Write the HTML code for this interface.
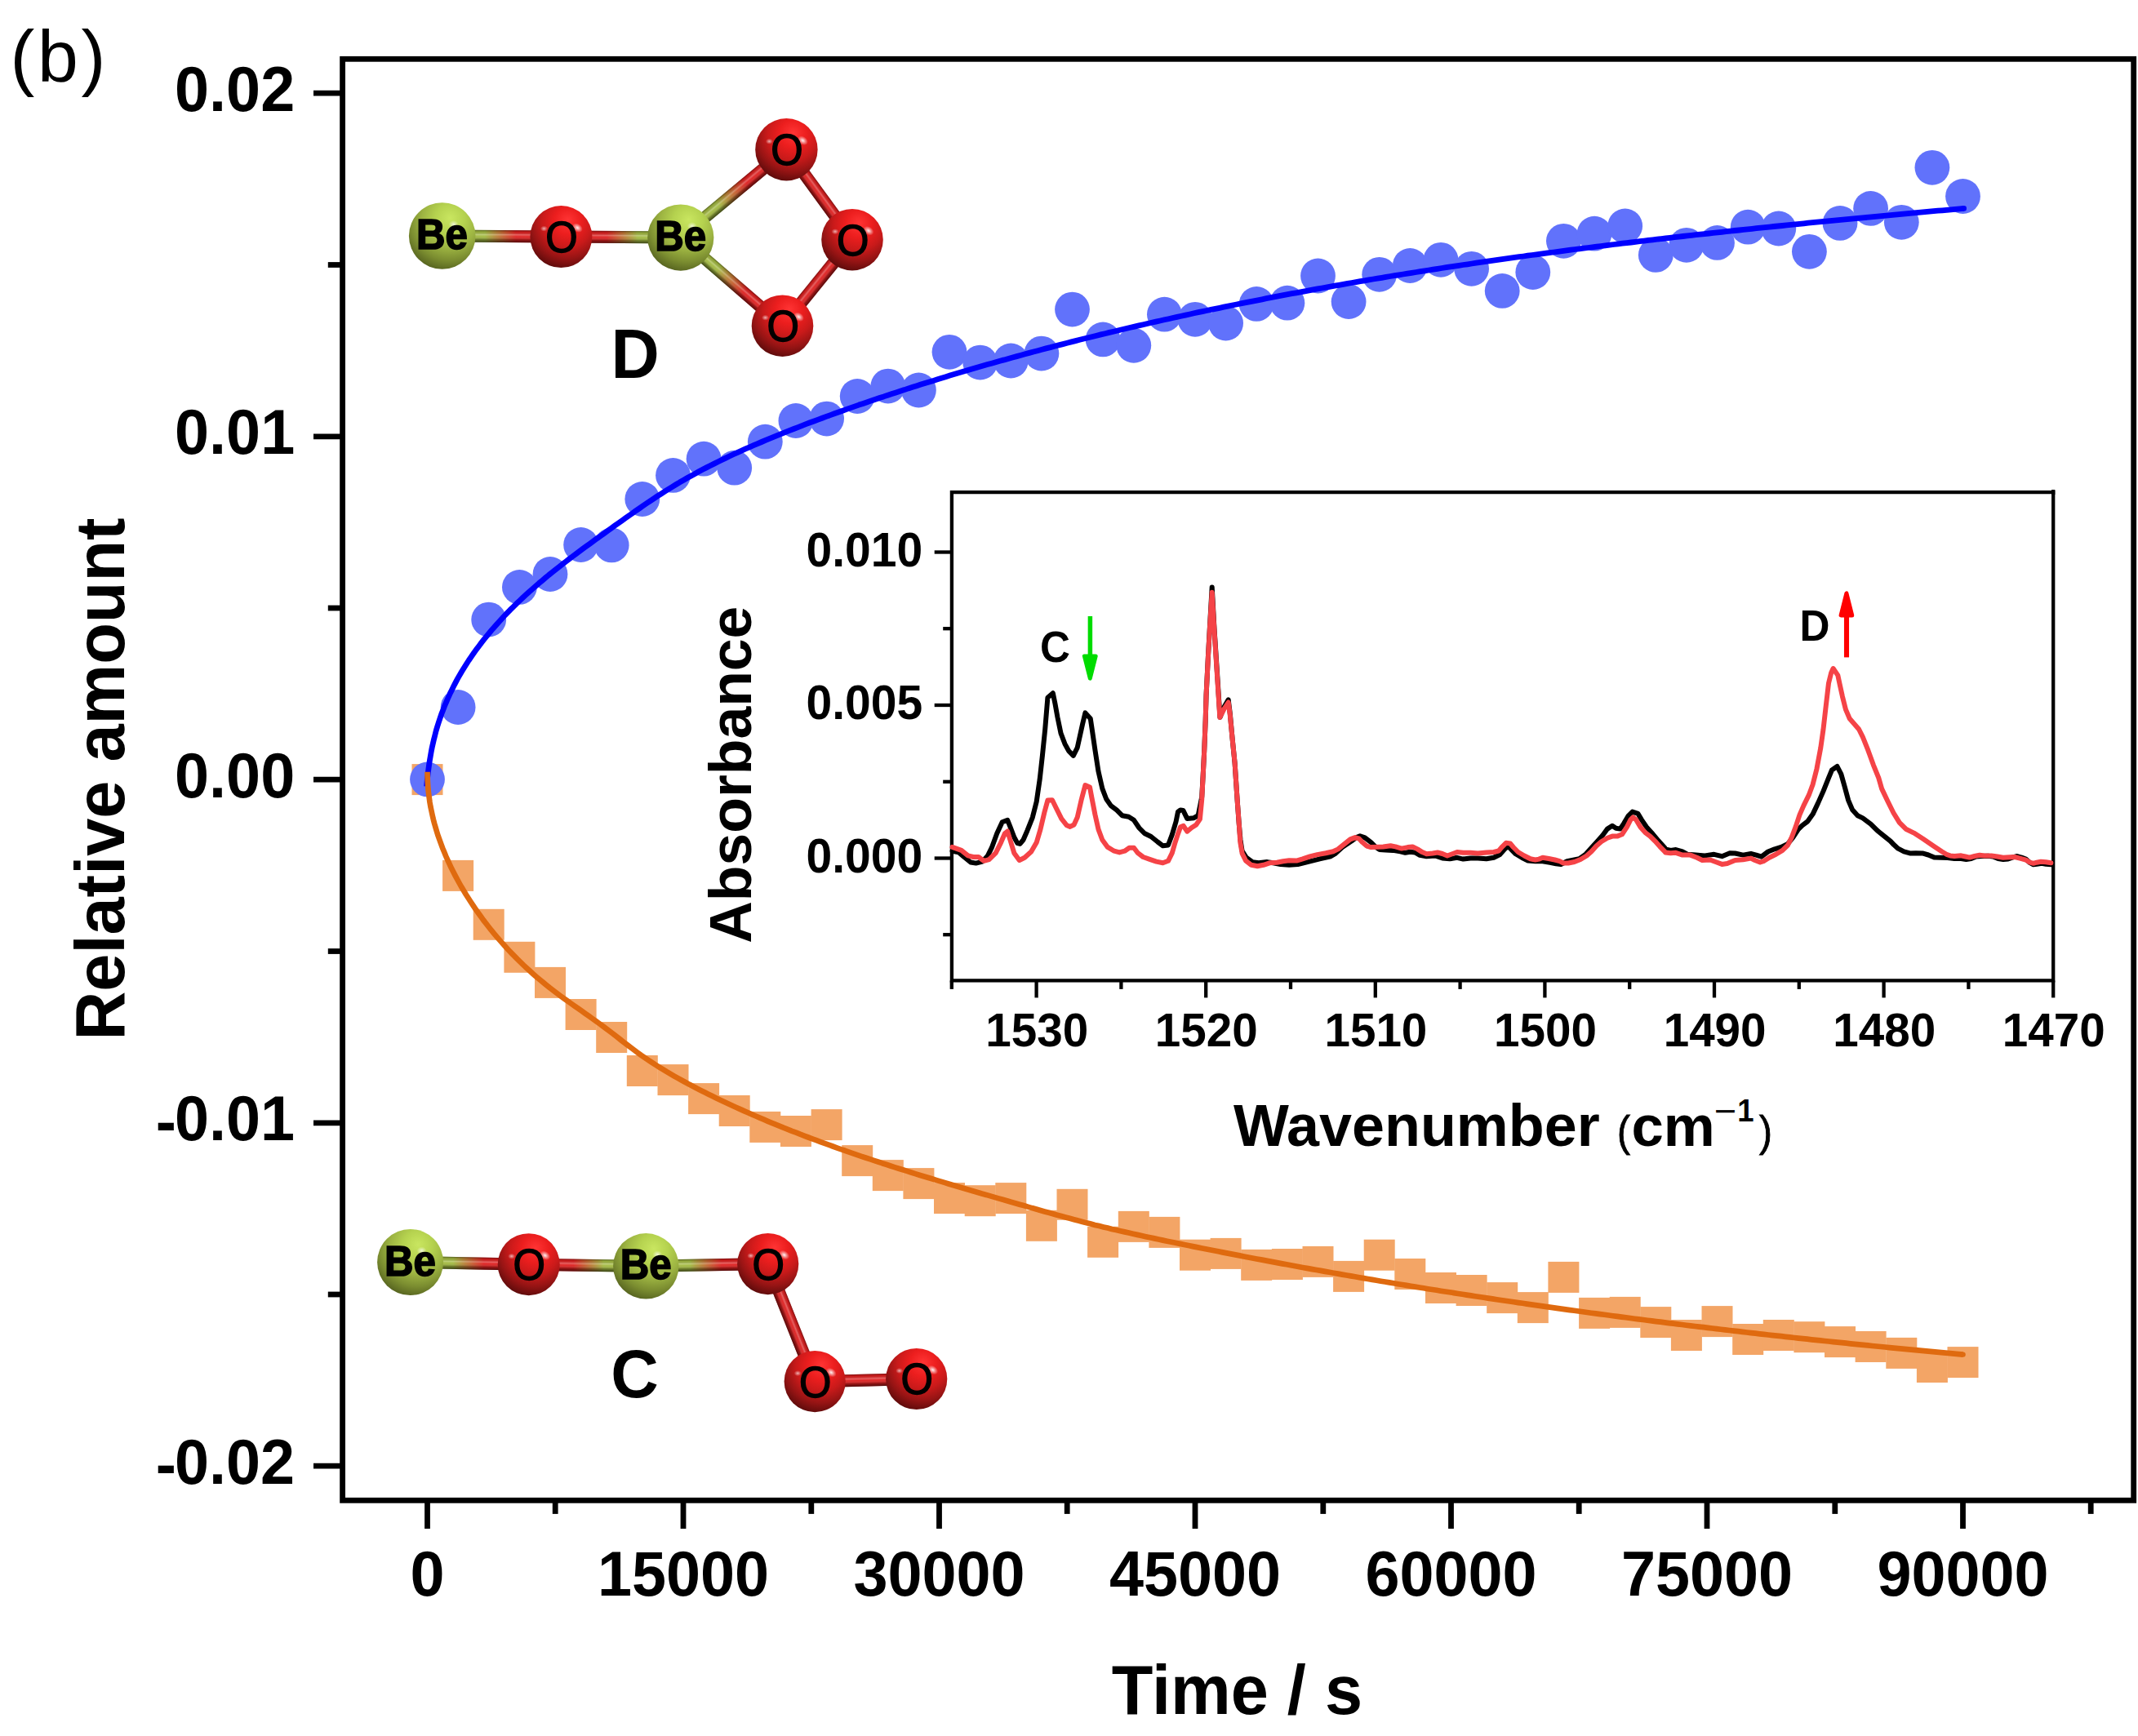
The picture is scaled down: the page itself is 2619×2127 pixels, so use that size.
<!DOCTYPE html>
<html lang="en"><head><meta charset="utf-8"><title>Relative amount vs time (b)</title>
<style>html,body{margin:0;padding:0;background:#fff;width:2619px;height:2127px;overflow:hidden}svg{display:block}text{font-family:"Liberation Sans",Arial,Helvetica,sans-serif;fill:#000}.b{font-weight:700}</style>
</head><body>
<svg width="2619" height="2127" viewBox="0 0 2619 2127">
<defs>
<radialGradient id="gO" cx="0.59" cy="0.29" r="0.78" fx="0.61" fy="0.23"><stop offset="0" stop-color="#ff3434"/><stop offset="0.28" stop-color="#ec1e1e"/><stop offset="0.52" stop-color="#c91a1a"/><stop offset="0.74" stop-color="#961414"/><stop offset="0.9" stop-color="#6a0d0d"/><stop offset="1" stop-color="#4a0808"/></radialGradient>
<radialGradient id="gB" cx="0.60" cy="0.29" r="0.80" fx="0.62" fy="0.23"><stop offset="0" stop-color="#c9e660"/><stop offset="0.28" stop-color="#b5d24f"/><stop offset="0.52" stop-color="#9db442"/><stop offset="0.74" stop-color="#7b8d30"/><stop offset="0.9" stop-color="#5c6a22"/><stop offset="1" stop-color="#404a16"/></radialGradient>
<radialGradient id="gH"><stop offset="0" stop-color="#fff" stop-opacity="0.95"/><stop offset="0.5" stop-color="#fff" stop-opacity="0.45"/><stop offset="1" stop-color="#fff" stop-opacity="0"/></radialGradient>
<linearGradient id="bBO" x1="0" x2="1" y1="0" y2="0"><stop offset="0" stop-color="#a2b940"/><stop offset="0.36" stop-color="#a2b940"/><stop offset="0.62" stop-color="#dd1f1f"/><stop offset="1" stop-color="#dd1f1f"/></linearGradient>
<linearGradient id="bOB" x1="0" x2="1" y1="0" y2="0"><stop offset="0" stop-color="#dd1f1f"/><stop offset="0.38" stop-color="#dd1f1f"/><stop offset="0.64" stop-color="#a2b940"/><stop offset="1" stop-color="#a2b940"/></linearGradient>
<linearGradient id="bOO" x1="0" x2="1" y1="0" y2="0"><stop offset="0" stop-color="#dd1f1f"/><stop offset="1" stop-color="#dd1f1f"/></linearGradient>
<linearGradient id="bS" x1="0" x2="0" y1="0" y2="1"><stop offset="0" stop-color="#000" stop-opacity="0.42"/><stop offset="0.16" stop-color="#000" stop-opacity="0.08"/><stop offset="0.36" stop-color="#fff" stop-opacity="0.30"/><stop offset="0.52" stop-color="#fff" stop-opacity="0.04"/><stop offset="0.76" stop-color="#000" stop-opacity="0.30"/><stop offset="1" stop-color="#000" stop-opacity="0.62"/></linearGradient>
</defs>
<rect x="0" y="0" width="2619" height="2127" fill="#ffffff"/>
<g fill="#f3a566">
<rect x="504.5" y="936.1" width="38" height="38"/>
<rect x="542.1" y="1053.9" width="38" height="38"/>
<rect x="579.7" y="1113.8" width="38" height="38"/>
<rect x="617.4" y="1153.8" width="38" height="38"/>
<rect x="655" y="1184.9" width="38" height="38"/>
<rect x="692.6" y="1224" width="38" height="38"/>
<rect x="730.2" y="1252" width="38" height="38"/>
<rect x="767.8" y="1293" width="38" height="38"/>
<rect x="805.5" y="1304.1" width="38" height="38"/>
<rect x="843.1" y="1327.1" width="38" height="38"/>
<rect x="880.7" y="1342" width="38" height="38"/>
<rect x="918.3" y="1361.9" width="38" height="38"/>
<rect x="955.9" y="1367" width="38" height="38"/>
<rect x="993.6" y="1359.1" width="38" height="38"/>
<rect x="1031.2" y="1403.1" width="38" height="38"/>
<rect x="1068.8" y="1421.1" width="38" height="38"/>
<rect x="1106.4" y="1431.1" width="38" height="38"/>
<rect x="1144" y="1449.1" width="38" height="38"/>
<rect x="1181.7" y="1452.2" width="38" height="38"/>
<rect x="1219.3" y="1449.1" width="38" height="38"/>
<rect x="1256.9" y="1482.8" width="38" height="38"/>
<rect x="1294.5" y="1456.8" width="38" height="38"/>
<rect x="1332.1" y="1502.8" width="38" height="38"/>
<rect x="1369.8" y="1483.9" width="38" height="38"/>
<rect x="1407.4" y="1490.9" width="38" height="38"/>
<rect x="1445" y="1518.7" width="38" height="38"/>
<rect x="1482.6" y="1516.9" width="38" height="38"/>
<rect x="1520.2" y="1530.9" width="38" height="38"/>
<rect x="1557.9" y="1530" width="38" height="38"/>
<rect x="1595.5" y="1526.9" width="38" height="38"/>
<rect x="1633.1" y="1544.9" width="38" height="38"/>
<rect x="1670.7" y="1518.7" width="38" height="38"/>
<rect x="1708.3" y="1542" width="38" height="38"/>
<rect x="1746" y="1559" width="38" height="38"/>
<rect x="1783.6" y="1562" width="38" height="38"/>
<rect x="1821.2" y="1571.1" width="38" height="38"/>
<rect x="1858.8" y="1583.1" width="38" height="38"/>
<rect x="1896.4" y="1545.9" width="38" height="38"/>
<rect x="1934.1" y="1589.9" width="38" height="38"/>
<rect x="1971.7" y="1588.9" width="38" height="38"/>
<rect x="2009.3" y="1601.1" width="38" height="38"/>
<rect x="2046.9" y="1617" width="38" height="38"/>
<rect x="2084.5" y="1600.1" width="38" height="38"/>
<rect x="2122.2" y="1622" width="38" height="38"/>
<rect x="2159.8" y="1617" width="38" height="38"/>
<rect x="2197.4" y="1619.2" width="38" height="38"/>
<rect x="2235" y="1625.1" width="38" height="38"/>
<rect x="2272.6" y="1631" width="38" height="38"/>
<rect x="2310.3" y="1638.9" width="38" height="38"/>
<rect x="2347.9" y="1656" width="38" height="38"/>
<rect x="2385.5" y="1650.1" width="38" height="38"/>
</g>
<g fill="#6172fb">
<circle cx="523.5" cy="954.9" r="21.4"/>
<circle cx="561.1" cy="866.5" r="21.4"/>
<circle cx="598.7" cy="759.1" r="21.4"/>
<circle cx="636.4" cy="719.4" r="21.4"/>
<circle cx="674" cy="703.5" r="21.4"/>
<circle cx="711.6" cy="667.5" r="21.4"/>
<circle cx="749.2" cy="667.9" r="21.4"/>
<circle cx="786.8" cy="611.5" r="21.4"/>
<circle cx="824.5" cy="582.4" r="21.4"/>
<circle cx="862.1" cy="562.2" r="21.4"/>
<circle cx="899.7" cy="573.2" r="21.4"/>
<circle cx="937.3" cy="541.2" r="21.4"/>
<circle cx="974.9" cy="515.5" r="21.4"/>
<circle cx="1012.6" cy="513.1" r="21.4"/>
<circle cx="1050.2" cy="485.5" r="21.4"/>
<circle cx="1087.8" cy="473.1" r="21.4"/>
<circle cx="1125.4" cy="478" r="21.4"/>
<circle cx="1163" cy="431.3" r="21.4"/>
<circle cx="1200.7" cy="444.1" r="21.4"/>
<circle cx="1238.3" cy="442" r="21.4"/>
<circle cx="1275.9" cy="433.1" r="21.4"/>
<circle cx="1313.5" cy="379.1" r="21.4"/>
<circle cx="1351.1" cy="415.9" r="21.4"/>
<circle cx="1388.8" cy="423.3" r="21.4"/>
<circle cx="1426.4" cy="385.2" r="21.4"/>
<circle cx="1464" cy="391.3" r="21.4"/>
<circle cx="1501.6" cy="396" r="21.4"/>
<circle cx="1539.2" cy="372.4" r="21.4"/>
<circle cx="1576.9" cy="371.2" r="21.4"/>
<circle cx="1614.5" cy="338" r="21.4"/>
<circle cx="1652.1" cy="369.6" r="21.4"/>
<circle cx="1689.7" cy="336.3" r="21.4"/>
<circle cx="1727.3" cy="325.5" r="21.4"/>
<circle cx="1765" cy="318.3" r="21.4"/>
<circle cx="1802.6" cy="329.3" r="21.4"/>
<circle cx="1840.2" cy="356.4" r="21.4"/>
<circle cx="1877.8" cy="333.5" r="21.4"/>
<circle cx="1915.4" cy="295.3" r="21.4"/>
<circle cx="1953.1" cy="286.2" r="21.4"/>
<circle cx="1990.7" cy="276.9" r="21.4"/>
<circle cx="2028.3" cy="312.4" r="21.4"/>
<circle cx="2065.9" cy="300.3" r="21.4"/>
<circle cx="2103.5" cy="297.4" r="21.4"/>
<circle cx="2141.2" cy="278.2" r="21.4"/>
<circle cx="2178.8" cy="280" r="21.4"/>
<circle cx="2216.4" cy="308.3" r="21.4"/>
<circle cx="2254" cy="273.4" r="21.4"/>
<circle cx="2291.6" cy="255.4" r="21.4"/>
<circle cx="2329.3" cy="272.3" r="21.4"/>
<circle cx="2366.9" cy="205.3" r="21.4"/>
<circle cx="2404.5" cy="240.5" r="21.4"/>
</g>
<path d="M522.6 963.5 L523.1 958.2 L523.6 952.9 L524.2 947.6 L524.9 942.3 L525.6 937 L526.4 931.7 L527.3 926.5 L528.2 921.2 L529.2 916 L530.4 910.8 L531.6 905.6 L532.9 900.5 L534.2 895.3 L535.7 890.2 L537.3 885.2 L539 880.1 L540.7 875.1 L542.6 870.2 L544.5 865.2 L546.6 860.3 L548.7 855.5 L550.9 850.6 L553.2 845.9 L555.6 841.1 L558 836.4 L560.5 831.7 L563.1 827.1 L565.8 822.5 L568.6 818 L571.4 813.5 L574.3 809 L577.3 804.6 L580.3 800.3 L583.4 795.9 L586.6 791.7 L589.8 787.4 L593.1 783.2 L596.4 779.1 L599.8 775 L603.2 770.9 L606.7 766.9 L610.3 762.9 L613.9 758.9 L617.5 755 L621.2 751.2 L624.9 747.3 L628.7 743.6 L632.5 739.8 L636.4 736.1 L640.2 732.5 L644.2 728.8 L648.1 725.2 L652.1 721.7 L656.1 718.2 L660.1 714.7 L664.2 711.3 L668.2 707.9 L672.3 704.5 L676.5 701.2 L680.6 697.9 L684.8 694.6 L688.9 691.3 L693.1 688.1 L697.4 684.8 L701.6 681.6 L705.8 678.5 L710.1 675.3 L714.4 672.1 L718.6 669 L722.9 665.9 L727.2 662.8 L731.5 659.6 L735.9 656.5 L740.2 653.4 L744.5 650.3 L748.8 647.2 L753.1 644.1 L757.5 641 L761.8 637.9 L766.2 634.8 L770.5 631.7 L774.9 628.7 L779.2 625.6 L783.6 622.6 L788 619.5 L792.4 616.5 L796.8 613.6 L801.3 610.6 L805.7 607.7 L810.2 604.8 L814.7 601.9 L819.2 599.1 L823.7 596.3 L828.3 593.5 L832.8 590.8 L837.4 588.2 L842 585.5 L846.7 582.9 L851.3 580.4 L856 577.8 L860.7 575.3 L865.4 572.9 L870.1 570.5 L874.9 568.1 L879.6 565.7 L884.4 563.4 L889.2 561.1 L894 558.8 L898.8 556.5 L903.6 554.3 L908.5 552.1 L913.3 549.9 L918.2 547.8 L923.1 545.7 L928 543.6 L932.9 541.5 L937.8 539.4 L942.7 537.4 L947.6 535.4 L952.5 533.4 L957.5 531.4 L962.4 529.4 L967.4 527.4 L972.3 525.5 L977.3 523.6 L982.3 521.6 L987.2 519.7 L992.2 517.8 L997.2 516 L1002.2 514.1 L1007.2 512.2 L1012.1 510.4 L1017.1 508.6 L1022.1 506.8 L1027.1 505 L1032.2 503.2 L1037.2 501.4 L1042.2 499.6 L1047.2 497.9 L1052.2 496.1 L1057.3 494.4 L1062.3 492.7 L1067.3 490.9 L1072.4 489.2 L1077.4 487.5 L1082.5 485.9 L1087.5 484.2 L1092.6 482.5 L1097.6 480.9 L1102.7 479.2 L1107.8 477.6 L1112.8 475.9 L1117.9 474.3 L1123 472.7 L1128 471.1 L1133.1 469.5 L1138.2 467.9 L1143.3 466.4 L1148.4 464.8 L1153.4 463.2 L1158.5 461.7 L1163.6 460.1 L1168.7 458.6 L1173.8 457.1 L1178.9 455.6 L1184 454.1 L1189.1 452.6 L1194.2 451.1 L1199.4 449.6 L1204.5 448.1 L1209.6 446.6 L1214.7 445.2 L1219.8 443.7 L1224.9 442.3 L1230.1 440.9 L1235.2 439.4 L1240.3 438 L1245.5 436.6 L1250.6 435.2 L1255.7 433.8 L1260.9 432.4 L1266 431 L1271.1 429.7 L1276.3 428.3 L1281.4 426.9 L1286.6 425.6 L1291.7 424.2 L1296.9 422.9 L1302 421.6 L1307.2 420.3 L1312.4 418.9 L1317.5 417.6 L1322.7 416.3 L1327.8 415 L1333 413.8 L1338.2 412.5 L1343.3 411.2 L1348.5 409.9 L1353.7 408.7 L1358.9 407.4 L1364 406.2 L1369.2 405 L1374.4 403.7 L1379.6 402.5 L1384.8 401.3 L1389.9 400.1 L1395.1 398.9 L1400.3 397.7 L1405.5 396.5 L1410.7 395.3 L1415.9 394.1 L1421.1 393 L1426.3 391.8 L1431.4 390.7 L1436.6 389.5 L1441.8 388.4 L1447 387.2 L1452.2 386.1 L1457.4 385 L1462.6 383.8 L1467.8 382.7 L1473 381.6 L1478.3 380.5 L1483.5 379.4 L1488.7 378.3 L1493.9 377.3 L1499.1 376.2 L1504.3 375.1 L1509.5 374 L1514.7 373 L1519.9 371.9 L1525.1 370.9 L1530.4 369.8 L1535.6 368.8 L1540.8 367.8 L1546 366.8 L1551.2 365.7 L1556.5 364.7 L1561.7 363.7 L1566.9 362.7 L1572.1 361.7 L1577.4 360.7 L1582.6 359.7 L1587.8 358.8 L1593 357.8 L1598.3 356.8 L1603.5 355.9 L1608.7 354.9 L1614 353.9 L1619.2 353 L1624.4 352.1 L1629.7 351.1 L1634.9 350.2 L1640.1 349.3 L1645.4 348.3 L1650.6 347.4 L1655.9 346.5 L1661.1 345.6 L1666.3 344.7 L1671.6 343.8 L1676.8 342.9 L1682.1 342 L1687.3 341.2 L1692.6 340.3 L1697.8 339.4 L1703.1 338.5 L1708.3 337.7 L1713.6 336.8 L1718.8 336 L1724.1 335.1 L1729.3 334.3 L1734.6 333.5 L1739.8 332.6 L1745.1 331.8 L1750.3 331 L1755.6 330.1 L1760.9 329.3 L1766.1 328.5 L1771.4 327.7 L1776.6 326.9 L1781.9 326.1 L1787.2 325.3 L1792.4 324.5 L1797.7 323.8 L1802.9 323 L1808.2 322.2 L1813.5 321.4 L1818.7 320.7 L1824 319.9 L1829.3 319.2 L1834.5 318.4 L1839.8 317.6 L1845.1 316.9 L1850.3 316.2 L1855.6 315.4 L1860.9 314.7 L1866.1 314 L1871.4 313.2 L1876.7 312.5 L1882 311.8 L1887.2 311.1 L1892.5 310.4 L1897.8 309.7 L1903.1 309 L1908.3 308.3 L1913.6 307.6 L1918.9 306.9 L1924.2 306.2 L1929.4 305.5 L1934.7 304.8 L1940 304.2 L1945.3 303.5 L1950.6 302.8 L1955.8 302.2 L1961.1 301.5 L1966.4 300.8 L1971.7 300.2 L1977 299.5 L1982.3 298.9 L1987.5 298.2 L1992.8 297.6 L1998.1 297 L2003.4 296.3 L2008.7 295.7 L2014 295.1 L2019.2 294.4 L2024.5 293.8 L2029.8 293.2 L2035.1 292.6 L2040.4 292 L2045.7 291.3 L2051 290.7 L2056.3 290.1 L2061.5 289.5 L2066.8 288.9 L2072.1 288.3 L2077.4 287.7 L2082.7 287.2 L2088 286.6 L2093.3 286 L2098.6 285.4 L2103.9 284.8 L2109.2 284.3 L2114.5 283.7 L2119.7 283.1 L2125 282.5 L2130.3 282 L2135.6 281.4 L2140.9 280.8 L2146.2 280.3 L2151.5 279.7 L2156.8 279.2 L2162.1 278.6 L2167.4 278.1 L2172.7 277.5 L2178 277 L2183.3 276.5 L2188.6 275.9 L2193.9 275.4 L2199.2 274.8 L2204.4 274.3 L2209.7 273.8 L2215 273.2 L2220.3 272.7 L2225.6 272.2 L2230.9 271.7 L2236.2 271.2 L2241.5 270.6 L2246.8 270.1 L2252.1 269.6 L2257.4 269.1 L2262.7 268.6 L2268 268.1 L2273.3 267.6 L2278.6 267.1 L2283.9 266.6 L2289.2 266.1 L2294.5 265.6 L2299.8 265.1 L2305.1 264.6 L2310.4 264.1 L2315.7 263.6 L2321 263.1 L2326.3 262.6 L2331.6 262.1 L2336.9 261.6 L2342.1 261.1 L2347.4 260.6 L2352.7 260.2 L2358 259.7 L2363.3 259.2 L2368.6 258.7 L2373.9 258.2 L2379.2 257.8 L2384.5 257.3 L2389.8 256.8 L2395.1 256.3 L2400.4 255.9 L2405.7 255.4" fill="none" stroke="#0000ff" stroke-width="6.8" stroke-linecap="butt" stroke-linejoin="round"/>
<path d="M523.5 945.8 L523.6 951.2 L523.8 956.5 L524.1 961.8 L524.5 967.2 L525.1 972.5 L525.8 977.7 L526.5 983 L527.4 988.2 L528.5 993.4 L529.6 998.6 L530.8 1003.8 L532.1 1008.9 L533.6 1014 L535.1 1019.1 L536.7 1024.2 L538.5 1029.2 L540.3 1034.2 L542.2 1039.2 L544.2 1044.1 L546.2 1049 L548.4 1053.9 L550.6 1058.7 L552.9 1063.6 L555.3 1068.3 L557.8 1073.1 L560.3 1077.8 L562.9 1082.5 L565.5 1087.1 L568.3 1091.7 L571 1096.3 L573.9 1100.8 L576.8 1105.3 L579.7 1109.7 L582.7 1114.1 L585.8 1118.5 L588.9 1122.8 L592 1127.1 L595.2 1131.3 L598.5 1135.5 L601.8 1139.7 L605.2 1143.8 L608.6 1147.9 L612.1 1151.9 L615.6 1155.9 L619.1 1159.8 L622.7 1163.7 L626.4 1167.6 L630.1 1171.4 L633.8 1175.2 L637.6 1178.9 L641.4 1182.6 L645.3 1186.2 L649.2 1189.8 L653.2 1193.4 L657.2 1196.9 L661.2 1200.3 L665.3 1203.7 L669.5 1207.1 L673.6 1210.4 L677.8 1213.6 L682.1 1216.9 L686.4 1220.1 L690.7 1223.2 L695 1226.3 L699.3 1229.4 L703.7 1232.5 L708.1 1235.6 L712.4 1238.6 L716.8 1241.7 L721.2 1244.8 L725.5 1247.9 L729.9 1251 L734.2 1254.1 L738.5 1257.3 L742.8 1260.5 L747 1263.7 L751.3 1266.9 L755.5 1270.2 L759.7 1273.5 L763.9 1276.8 L768.1 1280 L772.3 1283.2 L776.6 1286.4 L780.9 1289.6 L785.2 1292.7 L789.6 1295.7 L794 1298.7 L798.4 1301.6 L802.8 1304.5 L807.3 1307.3 L811.9 1310.1 L816.4 1312.9 L821 1315.6 L825.6 1318.3 L830.2 1320.9 L834.9 1323.5 L839.5 1326 L844.2 1328.6 L848.9 1331 L853.6 1333.5 L858.4 1335.9 L863.1 1338.3 L867.9 1340.7 L872.7 1343.1 L877.5 1345.4 L882.3 1347.7 L887.1 1350 L891.9 1352.3 L896.7 1354.5 L901.6 1356.7 L906.4 1358.9 L911.3 1361.1 L916.2 1363.3 L921 1365.4 L925.9 1367.5 L930.8 1369.6 L935.7 1371.7 L940.6 1373.8 L945.5 1375.8 L950.5 1377.9 L955.4 1379.9 L960.3 1381.9 L965.3 1383.8 L970.2 1385.8 L975.2 1387.7 L980.1 1389.7 L985.1 1391.6 L990.1 1393.5 L995.1 1395.3 L1000.1 1397.2 L1005.1 1399.1 L1010.1 1400.9 L1015.1 1402.7 L1020.1 1404.5 L1025.1 1406.3 L1030.1 1408.1 L1035.2 1409.8 L1040.2 1411.6 L1045.2 1413.3 L1050.3 1415.1 L1055.3 1416.8 L1060.4 1418.5 L1065.4 1420.2 L1070.5 1421.9 L1075.6 1423.5 L1080.6 1425.2 L1085.7 1426.8 L1090.8 1428.5 L1095.8 1430.1 L1100.9 1431.7 L1106 1433.3 L1111.1 1434.9 L1116.1 1436.5 L1121.2 1438.1 L1126.3 1439.7 L1131.4 1441.2 L1136.5 1442.8 L1141.6 1444.3 L1146.7 1445.9 L1151.8 1447.4 L1156.9 1448.9 L1162 1450.5 L1167.1 1452 L1172.2 1453.5 L1177.3 1455 L1182.4 1456.5 L1187.5 1458 L1192.6 1459.5 L1197.7 1461 L1202.8 1462.5 L1208 1463.9 L1213.1 1465.4 L1218.2 1466.9 L1223.3 1468.4 L1228.4 1469.8 L1233.5 1471.3 L1238.6 1472.8 L1243.8 1474.2 L1248.9 1475.7 L1254 1477.1 L1259.1 1478.6 L1264.2 1480.1 L1269.4 1481.5 L1274.5 1483 L1279.6 1484.4 L1284.7 1485.8 L1289.9 1487.2 L1295 1488.7 L1300.1 1490.1 L1305.3 1491.5 L1310.4 1492.8 L1315.6 1494.2 L1320.7 1495.6 L1325.9 1496.9 L1331 1498.2 L1336.2 1499.6 L1341.3 1500.9 L1346.5 1502.1 L1351.7 1503.4 L1356.9 1504.6 L1362 1505.9 L1367.2 1507.1 L1372.4 1508.3 L1377.6 1509.4 L1382.8 1510.6 L1388 1511.8 L1393.2 1512.9 L1398.4 1514 L1403.6 1515.2 L1408.8 1516.3 L1414 1517.4 L1419.3 1518.5 L1424.5 1519.6 L1429.7 1520.7 L1434.9 1521.7 L1440.1 1522.8 L1445.4 1523.9 L1450.6 1525 L1455.8 1526 L1461 1527.1 L1466.2 1528.1 L1471.5 1529.2 L1476.7 1530.2 L1481.9 1531.3 L1487.1 1532.3 L1492.4 1533.3 L1497.6 1534.4 L1502.8 1535.4 L1508 1536.4 L1513.3 1537.4 L1518.5 1538.4 L1523.7 1539.5 L1529 1540.5 L1534.2 1541.5 L1539.4 1542.5 L1544.7 1543.4 L1549.9 1544.4 L1555.1 1545.4 L1560.4 1546.4 L1565.6 1547.4 L1570.8 1548.4 L1576.1 1549.3 L1581.3 1550.3 L1586.6 1551.2 L1591.8 1552.2 L1597 1553.2 L1602.3 1554.1 L1607.5 1555.1 L1612.8 1556 L1618 1556.9 L1623.2 1557.9 L1628.5 1558.8 L1633.7 1559.7 L1639 1560.6 L1644.2 1561.6 L1649.5 1562.5 L1654.7 1563.4 L1660 1564.3 L1665.2 1565.2 L1670.5 1566.1 L1675.7 1567 L1681 1567.9 L1686.2 1568.8 L1691.5 1569.7 L1696.7 1570.5 L1702 1571.4 L1707.2 1572.3 L1712.5 1573.2 L1717.7 1574 L1723 1574.9 L1728.2 1575.8 L1733.5 1576.6 L1738.8 1577.5 L1744 1578.3 L1749.3 1579.2 L1754.5 1580 L1759.8 1580.8 L1765 1581.7 L1770.3 1582.5 L1775.6 1583.3 L1780.8 1584.1 L1786.1 1585 L1791.4 1585.8 L1796.6 1586.6 L1801.9 1587.4 L1807.1 1588.2 L1812.4 1589 L1817.7 1589.8 L1822.9 1590.6 L1828.2 1591.4 L1833.5 1592.2 L1838.7 1593 L1844 1593.8 L1849.3 1594.5 L1854.5 1595.3 L1859.8 1596.1 L1865.1 1596.8 L1870.3 1597.6 L1875.6 1598.4 L1880.9 1599.1 L1886.2 1599.9 L1891.4 1600.6 L1896.7 1601.4 L1902 1602.1 L1907.2 1602.9 L1912.5 1603.6 L1917.8 1604.4 L1923.1 1605.1 L1928.3 1605.8 L1933.6 1606.5 L1938.9 1607.3 L1944.2 1608 L1949.4 1608.7 L1954.7 1609.4 L1960 1610.1 L1965.3 1610.8 L1970.6 1611.5 L1975.8 1612.2 L1981.1 1612.9 L1986.4 1613.6 L1991.7 1614.3 L1997 1615 L2002.2 1615.7 L2007.5 1616.4 L2012.8 1617 L2018.1 1617.7 L2023.4 1618.4 L2028.6 1619.1 L2033.9 1619.7 L2039.2 1620.4 L2044.5 1621.1 L2049.8 1621.7 L2055.1 1622.4 L2060.4 1623 L2065.6 1623.7 L2070.9 1624.3 L2076.2 1625 L2081.5 1625.6 L2086.8 1626.2 L2092.1 1626.9 L2097.4 1627.5 L2102.7 1628.1 L2107.9 1628.8 L2113.2 1629.4 L2118.5 1630 L2123.8 1630.6 L2129.1 1631.2 L2134.4 1631.9 L2139.7 1632.5 L2145 1633.1 L2150.3 1633.7 L2155.6 1634.3 L2160.9 1634.9 L2166.1 1635.5 L2171.4 1636.1 L2176.7 1636.6 L2182 1637.2 L2187.3 1637.8 L2192.6 1638.4 L2197.9 1639 L2203.2 1639.6 L2208.5 1640.1 L2213.8 1640.7 L2219.1 1641.3 L2224.4 1641.8 L2229.7 1642.4 L2235 1643 L2240.3 1643.5 L2245.6 1644.1 L2250.9 1644.6 L2256.2 1645.2 L2261.5 1645.7 L2266.8 1646.3 L2272.1 1646.8 L2277.4 1647.4 L2282.7 1647.9 L2288 1648.4 L2293.3 1649 L2298.6 1649.5 L2303.9 1650 L2309.2 1650.5 L2314.5 1651.1 L2319.8 1651.6 L2325.1 1652.1 L2330.4 1652.6 L2335.7 1653.1 L2341 1653.6 L2346.3 1654.2 L2351.6 1654.7 L2356.9 1655.2 L2362.2 1655.7 L2367.5 1656.2 L2372.8 1656.7 L2378.1 1657.2 L2383.4 1657.7 L2388.7 1658.1 L2394 1658.6 L2399.3 1659.1 L2404.6 1659.6" fill="none" stroke="#df6a0f" stroke-width="6.7" stroke-linecap="butt" stroke-linejoin="round"/>
<circle cx="2405.7" cy="255.4" r="3.3" fill="#0000ff"/>
<circle cx="2404.6" cy="1659.6" r="3.2" fill="#df6a0f"/>
<g stroke="#000" stroke-width="6.8" fill="none" stroke-linecap="butt">
<rect x="419.6" y="72.3" width="2194.1" height="1766"/>
<line x1="384" y1="1796.2" x2="419.6" y2="1796.2"/>
<line x1="401.8" y1="1586" x2="419.6" y2="1586"/>
<line x1="384" y1="1375.8" x2="419.6" y2="1375.8"/>
<line x1="401.8" y1="1165.5" x2="419.6" y2="1165.5"/>
<line x1="384" y1="955.2" x2="419.6" y2="955.2"/>
<line x1="401.8" y1="745" x2="419.6" y2="745"/>
<line x1="384" y1="534.8" x2="419.6" y2="534.8"/>
<line x1="401.8" y1="324.5" x2="419.6" y2="324.5"/>
<line x1="384" y1="114.2" x2="419.6" y2="114.2"/>
<line x1="523.5" y1="1838.3" x2="523.5" y2="1873"/>
<line x1="680.2" y1="1838.3" x2="680.2" y2="1854.9"/>
<line x1="837" y1="1838.3" x2="837" y2="1873"/>
<line x1="993.8" y1="1838.3" x2="993.8" y2="1854.9"/>
<line x1="1150.5" y1="1838.3" x2="1150.5" y2="1873"/>
<line x1="1307.2" y1="1838.3" x2="1307.2" y2="1854.9"/>
<line x1="1464" y1="1838.3" x2="1464" y2="1873"/>
<line x1="1620.8" y1="1838.3" x2="1620.8" y2="1854.9"/>
<line x1="1777.5" y1="1838.3" x2="1777.5" y2="1873"/>
<line x1="1934.2" y1="1838.3" x2="1934.2" y2="1854.9"/>
<line x1="2091" y1="1838.3" x2="2091" y2="1873"/>
<line x1="2247.8" y1="1838.3" x2="2247.8" y2="1854.9"/>
<line x1="2404.5" y1="1838.3" x2="2404.5" y2="1873"/>
<line x1="2561.2" y1="1838.3" x2="2561.2" y2="1854.9"/>
</g>
<text class="b" font-size="75.6" text-anchor="end" transform="translate(361.2 135.8) scale(1.0000 1.0350)">0.02</text>
<text class="b" font-size="75.6" text-anchor="end" transform="translate(361.2 556.4) scale(1.0000 1.0350)">0.01</text>
<text class="b" font-size="75.6" text-anchor="end" transform="translate(361.2 976.9) scale(1.0000 1.0350)">0.00</text>
<text class="b" font-size="75.6" text-anchor="end" transform="translate(359 1397.3) scale(1.0000 1.0350)"><tspan dx="2" dy="3.2">-</tspan><tspan dx="-2" dy="-3.2">0.01</tspan></text>
<text class="b" font-size="75.6" text-anchor="end" transform="translate(359 1817.8) scale(1.0000 1.0350)"><tspan dx="2" dy="3.2">-</tspan><tspan dx="-2" dy="-3.2">0.02</tspan></text>
<text class="b" font-size="75.6" text-anchor="middle" transform="translate(523.5 1955) scale(1.0000 1.0350)">0</text>
<text class="b" font-size="75.6" text-anchor="middle" transform="translate(837 1955) scale(1.0000 1.0350)">15000</text>
<text class="b" font-size="75.6" text-anchor="middle" transform="translate(1150.5 1955) scale(1.0000 1.0350)">30000</text>
<text class="b" font-size="75.6" text-anchor="middle" transform="translate(1464 1955) scale(1.0000 1.0350)">45000</text>
<text class="b" font-size="75.6" text-anchor="middle" transform="translate(1777.5 1955) scale(1.0000 1.0350)">60000</text>
<text class="b" font-size="75.6" text-anchor="middle" transform="translate(2091 1955) scale(1.0000 1.0350)">75000</text>
<text class="b" font-size="75.6" text-anchor="middle" transform="translate(2404.5 1955) scale(1.0000 1.0350)">90000</text>
<text class="b" font-size="82.9" text-anchor="middle" transform="translate(1515.4 2100) scale(1.0000 1.0300)">Time / s</text>
<text class="b" font-size="82.9" text-anchor="middle" transform="translate(152.3 954.4) rotate(-90) scale(1.0000 1.0200)">Relative amount</text>
<text font-size="89.6" text-anchor="start" transform="translate(12.6 100.1)" letter-spacing="3.6">(b)</text>
<g stroke="#000" stroke-width="4.3" fill="none">
<rect x="1165.9" y="603.1" width="1349.3" height="598.3"/>
<line x1="2515.2" y1="600" x2="2515.2" y2="606"/>
<line x1="1144.7" y1="676.5" x2="1165.9" y2="676.5"/>
<line x1="1155.2" y1="770.2" x2="1165.9" y2="770.2"/>
<line x1="1144.7" y1="864" x2="1165.9" y2="864"/>
<line x1="1155.2" y1="957.8" x2="1165.9" y2="957.8"/>
<line x1="1144.7" y1="1051.5" x2="1165.9" y2="1051.5"/>
<line x1="1155.2" y1="1145.2" x2="1165.9" y2="1145.2"/>
<line x1="2515.2" y1="1201.4" x2="2515.2" y2="1222.4"/>
<line x1="2411.4" y1="1201.4" x2="2411.4" y2="1211.9"/>
<line x1="2307.6" y1="1201.4" x2="2307.6" y2="1222.4"/>
<line x1="2203.8" y1="1201.4" x2="2203.8" y2="1211.9"/>
<line x1="2100" y1="1201.4" x2="2100" y2="1222.4"/>
<line x1="1996.2" y1="1201.4" x2="1996.2" y2="1211.9"/>
<line x1="1892.4" y1="1201.4" x2="1892.4" y2="1222.4"/>
<line x1="1788.6" y1="1201.4" x2="1788.6" y2="1211.9"/>
<line x1="1684.8" y1="1201.4" x2="1684.8" y2="1222.4"/>
<line x1="1581" y1="1201.4" x2="1581" y2="1211.9"/>
<line x1="1477.2" y1="1201.4" x2="1477.2" y2="1222.4"/>
<line x1="1373.4" y1="1201.4" x2="1373.4" y2="1211.9"/>
<line x1="1269.6" y1="1201.4" x2="1269.6" y2="1222.4"/>
<line x1="1165.8" y1="1201.4" x2="1165.8" y2="1211.9"/>
</g>
<text class="b" font-size="57" text-anchor="end" transform="translate(1130.2 693.7) scale(1.0000 1.0300)">0.010</text>
<text class="b" font-size="57" text-anchor="end" transform="translate(1130.2 881.2) scale(1.0000 1.0300)">0.005</text>
<text class="b" font-size="57" text-anchor="end" transform="translate(1130.2 1068.7) scale(1.0000 1.0300)">0.000</text>
<text class="b" font-size="56.6" text-anchor="middle" transform="translate(1270.2 1282.3) scale(1.0000 1.0300)">1530</text>
<text class="b" font-size="56.6" text-anchor="middle" transform="translate(1477.8 1282.3) scale(1.0000 1.0300)">1520</text>
<text class="b" font-size="56.6" text-anchor="middle" transform="translate(1685.4 1282.3) scale(1.0000 1.0300)">1510</text>
<text class="b" font-size="56.6" text-anchor="middle" transform="translate(1893 1282.3) scale(1.0000 1.0300)">1500</text>
<text class="b" font-size="56.6" text-anchor="middle" transform="translate(2100.6 1282.3) scale(1.0000 1.0300)">1490</text>
<text class="b" font-size="56.6" text-anchor="middle" transform="translate(2308.2 1282.3) scale(1.0000 1.0300)">1480</text>
<text class="b" font-size="56.6" text-anchor="middle" transform="translate(2515.8 1282.3) scale(1.0000 1.0300)">1470</text>
<text class="b" font-size="71.5" text-anchor="middle" transform="translate(920 949.2) rotate(-90) scale(1.0000 1.0200)">Absorbance</text>
<text class="b" font-size="71.9" text-anchor="start" transform="translate(1510.9 1403.6)">Wavenumber</text>
<text class="b" font-size="70.8" text-anchor="start" transform="translate(1998.5 1403.6)">cm</text>
<text font-size="51.5" text-anchor="start" transform="translate(1980.9 1404.2) scale(0.9300 1.0000)" stroke="#000" stroke-width="0.9">(</text>
<text font-size="51.5" text-anchor="start" transform="translate(2154.9 1404.2) scale(0.9300 1.0000)" stroke="#000" stroke-width="0.9">)</text>
<text font-size="39.6" text-anchor="start" transform="translate(2102.6 1372.3)" stroke="#000" stroke-width="0.7">–</text>
<text class="b" font-size="36.5" text-anchor="start" transform="translate(2128.3 1374) scale(1.0000 1.0400)">1</text>
<path d="M1166.5 1042.7 L1174.5 1044.4 L1181 1050 L1189 1056.5 L1195.5 1057.6 L1203.5 1055.6 L1210 1048.4 L1214.8 1038.7 L1221.3 1021 L1227.7 1007.3 L1234.2 1004.8 L1237.4 1012.9 L1242.3 1025.8 L1246.3 1033.1 L1249.5 1033.9 L1253.5 1029 L1258.4 1017.7 L1264.8 1001.6 L1269.7 982.3 L1273.7 954.8 L1276.9 925.8 L1280.2 893.5 L1283.4 854.8 L1289.8 849.2 L1292.3 861.3 L1295.5 879 L1299.5 898.4 L1304.4 911.3 L1309.2 920.2 L1314.8 925.8 L1319.7 916.1 L1322.9 901.6 L1326.1 887.1 L1329.4 873.4 L1335.8 880.6 L1338.2 896.8 L1341.5 919.4 L1345.5 945.2 L1350.3 966.1 L1355.2 979 L1360.8 987.1 L1368.1 992.7 L1374.5 999.2 L1382.6 1000.8 L1389 1004.8 L1395.5 1014.5 L1401.9 1021 L1410 1025 L1418.1 1031.5 L1424.5 1036.3 L1431 1035.5 L1435.8 1022.6 L1440.6 1006.5 L1443 994.7 L1446 992.5 L1449.3 992.9 L1454.2 1002.9 L1462.5 1002.2 L1467.7 999.2 L1470.7 984.2 L1472.2 976.7 L1473.7 949.8 L1475.2 919.9 L1476.7 882.5 L1477.6 851.3 L1479.9 805.2 L1482.2 763.7 L1484.7 719.4 L1487.5 770.6 L1490.5 816.7 L1494.5 878.9 L1499.5 866.3 L1504.7 857.3 L1506.8 874.3 L1509.6 904.9 L1512.6 934.8 L1515.6 979.7 L1517.8 1009.7 L1519.5 1029.1 L1521.6 1042.6 L1526.8 1050.8 L1534.3 1056.1 L1541.8 1057.3 L1552.3 1056.1 L1559.7 1057.3 L1568.7 1059.1 L1579.2 1059.8 L1589.7 1059.1 L1598.7 1056.8 L1607.6 1054.6 L1616.6 1052.3 L1630.1 1049.3 L1636.1 1045.6 L1645.1 1037.4 L1655.5 1030.6 L1661.5 1026.1 L1666 1024.3 L1672 1026.4 L1679.5 1032.1 L1685.5 1038.1 L1690 1041.1 L1697.4 1041.4 L1706.4 1041.9 L1715.4 1043.3 L1721.4 1044.8 L1727.4 1043.8 L1733.4 1044.4 L1739.3 1047.8 L1747.5 1049.3 L1758 1048.5 L1766.9 1051.5 L1775.9 1052.3 L1784.9 1050.8 L1792.4 1052.6 L1801.4 1051.5 L1810.3 1051.5 L1820.8 1052.3 L1829.8 1050.8 L1837.3 1047 L1843.3 1040.3 L1847 1037 L1850.8 1040.3 L1856.7 1046.3 L1864.2 1050.8 L1871.7 1054.5 L1880.7 1055.2 L1889.7 1055.2 L1898.7 1056.7 L1906.1 1058.2 L1912.1 1059 L1919.6 1055.2 L1927.1 1053.8 L1934.6 1052.3 L1942.1 1047 L1949.5 1038.8 L1957 1030.6 L1963 1023.8 L1969 1015.6 L1975 1011.8 L1979.5 1014.8 L1984.7 1015.6 L1989.2 1008.8 L1994.4 999.9 L1999.7 994.6 L2006.4 996.9 L2010.9 1004.4 L2016.9 1013.3 L2024.4 1021.6 L2031.9 1030.6 L2039.3 1038.8 L2040 1040.3 L2046.5 1041.9 L2052.9 1041.1 L2061 1043.5 L2067.4 1046.8 L2077.1 1047.6 L2088.4 1048.4 L2099.7 1046.8 L2109.4 1049.2 L2119 1045.2 L2125.5 1045.5 L2135.2 1047.6 L2144.8 1046 L2151.3 1047.6 L2157.7 1049.7 L2165.8 1043.5 L2173.9 1040.3 L2181.9 1037.9 L2190 1033.9 L2196.5 1025.8 L2202.9 1016.1 L2207.7 1011.3 L2214.2 1006.5 L2220.6 997.6 L2227.1 983.9 L2233.5 969.4 L2240 953.2 L2244 943.5 L2250.5 939 L2255.3 948.4 L2259.4 962.9 L2264.2 980.6 L2269 991.9 L2275.5 999.2 L2281.9 1002.4 L2291.6 1009.7 L2299.7 1017.7 L2307.7 1024.2 L2315.8 1030.6 L2320 1035.1 L2325.1 1039.7 L2332.3 1043.4 L2339.6 1045.4 L2346.8 1045.2 L2355 1045.4 L2362.2 1047.5 L2369.4 1050.6 L2377.6 1050.8 L2385.9 1051.1 L2394.1 1052.1 L2402.3 1052.1 L2408.5 1053.1 L2414.7 1052.1 L2420.8 1049.5 L2427 1049 L2435.3 1048.7 L2441.4 1049.5 L2447.6 1052.1 L2453.8 1053.1 L2459.9 1052.4 L2465.1 1050.6 L2470.2 1049 L2476.4 1050.6 L2481.6 1052.6 L2486.7 1057.2 L2490.8 1059.3 L2494.9 1058.8 L2501.1 1057.8 L2506.3 1058.8 L2512.4 1059.3" fill="none" stroke="#000" stroke-width="6" stroke-linejoin="round" stroke-linecap="round"/>
<path d="M1166.5 1037.9 L1177.7 1041.9 L1185.8 1048.4 L1192.3 1050 L1198.7 1050 L1205.2 1054.8 L1211.6 1053.2 L1219.7 1045.2 L1226.1 1032.3 L1231 1021 L1234.2 1018.5 L1237.4 1029 L1242.3 1045.2 L1248.7 1054 L1255.2 1050.8 L1263.2 1043.5 L1269.7 1032.3 L1274.5 1016.1 L1279.4 995.2 L1283.4 980.6 L1289 980.3 L1293.9 990.3 L1300.3 1003.2 L1306.8 1011.3 L1310.8 1012.9 L1315.6 1010.5 L1319.7 1001.6 L1324.5 980.6 L1329.4 962.1 L1335 964.5 L1337.4 977.4 L1341.5 998.4 L1345.5 1016.1 L1350.3 1029 L1356.8 1037.9 L1364.8 1042.7 L1371.3 1044.4 L1377.7 1042.7 L1383.4 1038.7 L1389 1038.7 L1393.9 1045.2 L1400.3 1050 L1408.4 1052.9 L1416.5 1055.6 L1424.5 1057.3 L1431 1054.8 L1435.8 1045.2 L1439 1033.9 L1443 1021.6 L1446 1013.4 L1449.7 1011.9 L1454.2 1018.7 L1459.5 1014.2 L1465.4 1010.4 L1469.9 1003.7 L1472.2 979.7 L1473.7 949.8 L1475.2 919.9 L1476.7 882.5 L1477.6 851.3 L1479.9 805.2 L1482.2 764.9 L1484.7 725.7 L1487.4 770.6 L1490.3 816.7 L1494.3 878.9 L1499.5 868.6 L1504.7 860.5 L1506.6 874.3 L1509.6 904.9 L1512.6 934.8 L1515.6 979.7 L1517.8 1009.7 L1519.3 1032.1 L1521.6 1045.6 L1526.1 1054.6 L1532.8 1059.8 L1540.3 1061.3 L1547.8 1059.8 L1555.2 1057.3 L1564.2 1056.8 L1571.7 1055.3 L1579.2 1054.3 L1588.2 1054.6 L1595.7 1052.3 L1604.6 1049.3 L1613.6 1047.1 L1624.1 1045.3 L1633.1 1043.3 L1639.1 1040.4 L1646.5 1034.4 L1654 1028.4 L1660 1026.1 L1664.5 1027.3 L1669 1032.1 L1674.2 1036.6 L1679.5 1038.1 L1687 1037.8 L1694.4 1037.4 L1703.4 1036.3 L1709.4 1037.4 L1716.9 1039.6 L1724.4 1038.1 L1730.4 1037.4 L1736.4 1040.4 L1742.3 1044.1 L1747.5 1046.3 L1755 1045.5 L1761 1044.5 L1766.9 1046 L1772.9 1048.5 L1778.9 1046.3 L1784.9 1044 L1792.4 1044.8 L1801.4 1044.8 L1810.3 1045.5 L1820.8 1044.5 L1829.8 1044 L1835.8 1042.5 L1840.3 1037.3 L1844.8 1032.8 L1850 1033.5 L1853.8 1038 L1859.7 1044 L1867.2 1048.5 L1874.7 1052.3 L1880.7 1053.5 L1885.2 1052.6 L1889.7 1050.8 L1897.2 1052 L1904.6 1053.5 L1910.6 1055.2 L1915.1 1057.5 L1921.1 1057.5 L1928.6 1056 L1936.1 1053 L1943.6 1048.5 L1949.5 1043.3 L1955.5 1036.5 L1961.5 1031.3 L1969 1026.8 L1975 1024.6 L1981 1024.6 L1987 1022.3 L1992.9 1013.3 L1997.4 1004.4 L2000.4 1001.4 L2004.2 1004.4 L2009.4 1013.3 L2015.4 1020.1 L2021.4 1024.6 L2027.4 1030.6 L2033.4 1037.3 L2039.3 1043.3 L2040 1044.4 L2046.5 1045.2 L2052.9 1044.8 L2061 1047.6 L2070.6 1047.6 L2078.7 1050.8 L2085.2 1054 L2094.8 1053.5 L2102.9 1056.5 L2109.4 1058.9 L2115.8 1058.1 L2125.5 1054 L2135.2 1053.2 L2144.8 1051.6 L2149.7 1054 L2156.1 1056.5 L2161 1054.8 L2167.4 1050.8 L2175.5 1046.8 L2183.5 1041.9 L2190 1035.5 L2194.8 1025.8 L2199.7 1012.9 L2204.5 998.4 L2209.4 987.1 L2215.8 974.2 L2220.6 961.3 L2225.5 941.9 L2230.3 916.1 L2233.5 893.5 L2236.8 864.5 L2240 837.1 L2243.2 824.2 L2245.6 819 L2251.3 827.4 L2253.7 838.7 L2256.9 853.2 L2261 869.4 L2265.8 880.6 L2272.3 887.9 L2277.1 893.5 L2281.9 903.2 L2288.4 919.4 L2294.8 937.1 L2301.3 953.2 L2305.1 966.4 L2312.3 981.5 L2319.5 996 L2326.8 1007.8 L2334.6 1015.7 L2344.5 1020.6 L2355.7 1027.8 L2368.8 1036.7 L2378.6 1043.2 L2385.2 1047.2 L2389 1048.4 L2394.1 1049 L2402.3 1048.3 L2407.5 1049.5 L2412.6 1050.6 L2418.8 1049 L2425 1047.7 L2431.1 1048.5 L2439.4 1048.5 L2446.6 1049.5 L2453.8 1050.8 L2462 1050.3 L2468.2 1050 L2474.4 1051.6 L2481.6 1053.6 L2486.7 1056.7 L2490.8 1057.8 L2494.9 1056.7 L2500.1 1055.7 L2506.3 1056.2 L2512.4 1057.2" fill="none" stroke="#f54347" stroke-width="6" stroke-linejoin="round" stroke-linecap="round"/>
<g stroke-linejoin="round">
<line x1="1335.4" y1="755" x2="1335.4" y2="806" stroke="#00dc00" stroke-width="5.5"/>
<path d="M1328.4 804 L1342.2 804 L1335.3 831.2 Z" fill="#00dc00" stroke="#00dc00" stroke-width="5"/>
<line x1="2262" y1="805.4" x2="2262" y2="752" stroke="#ff0000" stroke-width="6.1"/>
<path d="M2255.1 753.9 L2268.7 753.9 L2261.9 726.9 Z" fill="#ff0000" stroke="#ff0000" stroke-width="5"/>
</g>
<text class="b" font-size="51.2" text-anchor="start" transform="translate(1273.9 811.2) scale(1.0000 1.0400)">C</text>
<text class="b" font-size="51.2" text-anchor="start" transform="translate(2204.4 785.2) scale(1.0000 1.0400)">D</text>
<g transform="translate(541.7 289) rotate(0.43)"><rect x="0" y="-7.5" width="145.7" height="15" fill="url(#bBO)"/><rect x="0" y="-7.5" width="145.7" height="15" fill="url(#bS)"/></g>
<g transform="translate(687.4 290.1) rotate(0.39)"><rect x="0" y="-7.5" width="146.4" height="15" fill="url(#bOB)"/><rect x="0" y="-7.5" width="146.4" height="15" fill="url(#bS)"/></g>
<g transform="translate(833.8 291.1) rotate(-39.78)"><rect x="0" y="-7.5" width="168.6" height="15" fill="url(#bBO)"/><rect x="0" y="-7.5" width="168.6" height="15" fill="url(#bS)"/></g>
<g transform="translate(833.8 291.1) rotate(40.92)"><rect x="0" y="-7.5" width="165" height="15" fill="url(#bBO)"/><rect x="0" y="-7.5" width="165" height="15" fill="url(#bS)"/></g>
<g transform="translate(963.4 183.2) rotate(53.89)"><rect x="0" y="-7.5" width="136.8" height="15" fill="url(#bOO)"/><rect x="0" y="-7.5" width="136.8" height="15" fill="url(#bS)"/></g>
<g transform="translate(958.5 399.2) rotate(-50.98)"><rect x="0" y="-7.5" width="135.8" height="15" fill="url(#bOO)"/><rect x="0" y="-7.5" width="135.8" height="15" fill="url(#bS)"/></g>
<circle cx="541.7" cy="289" r="40.8" fill="url(#gB)"/>
<ellipse cx="555.7" cy="275" rx="6" ry="5" fill="url(#gH)" opacity="0.8"/>
<text class="b" font-size="50.5" text-anchor="middle" transform="translate(541.5 305) scale(0.9750 1.0400)" stroke="#000" stroke-width="1.6">Be</text>
<circle cx="687.4" cy="290.1" r="38" fill="url(#gO)"/>
<ellipse cx="707.4" cy="279.1" rx="7" ry="5" fill="url(#gH)" transform="rotate(35 707.4 279.1)"/>
<ellipse cx="666.4" cy="280.1" rx="4.5" ry="3.5" fill="url(#gH)" opacity="0.7"/>
<text font-size="52" text-anchor="middle" transform="translate(688 309) scale(0.9750 1.0300)" stroke="#000" stroke-width="1.4">O</text>
<circle cx="833.8" cy="291.1" r="40.6" fill="url(#gB)"/>
<ellipse cx="847.8" cy="277.1" rx="6" ry="5" fill="url(#gH)" opacity="0.8"/>
<text class="b" font-size="50.5" text-anchor="middle" transform="translate(833.6 307.1) scale(0.9750 1.0400)" stroke="#000" stroke-width="1.6">Be</text>
<circle cx="963.4" cy="183.2" r="38.2" fill="url(#gO)"/>
<ellipse cx="983.4" cy="172.2" rx="7" ry="5" fill="url(#gH)" transform="rotate(35 983.4 172.2)"/>
<ellipse cx="942.4" cy="173.2" rx="4.5" ry="3.5" fill="url(#gH)" opacity="0.7"/>
<text font-size="52" text-anchor="middle" transform="translate(964 202.1) scale(0.9750 1.0300)" stroke="#000" stroke-width="1.4">O</text>
<circle cx="1044" cy="293.7" r="37.8" fill="url(#gO)"/>
<ellipse cx="1064" cy="282.7" rx="7" ry="5" fill="url(#gH)" transform="rotate(35 1064 282.7)"/>
<ellipse cx="1023" cy="283.7" rx="4.5" ry="3.5" fill="url(#gH)" opacity="0.7"/>
<text font-size="52" text-anchor="middle" transform="translate(1044.6 312.6) scale(0.9750 1.0300)" stroke="#000" stroke-width="1.4">O</text>
<circle cx="958.5" cy="399.2" r="37.8" fill="url(#gO)"/>
<ellipse cx="978.5" cy="388.2" rx="7" ry="5" fill="url(#gH)" transform="rotate(35 978.5 388.2)"/>
<ellipse cx="937.5" cy="389.2" rx="4.5" ry="3.5" fill="url(#gH)" opacity="0.7"/>
<text font-size="52" text-anchor="middle" transform="translate(959.1 418.1) scale(0.9750 1.0300)" stroke="#000" stroke-width="1.4">O</text>
<text class="b" font-size="82" text-anchor="start" transform="translate(748.5 462.8) scale(1.0000 1.0400)">D</text>
<g transform="translate(502.6 1546.5) rotate(1.07)"><rect x="0" y="-7.5" width="145.1" height="15" fill="url(#bBO)"/><rect x="0" y="-7.5" width="145.1" height="15" fill="url(#bS)"/></g>
<g transform="translate(647.7 1549.2) rotate(0.84)"><rect x="0" y="-7.5" width="143.6" height="15" fill="url(#bOB)"/><rect x="0" y="-7.5" width="143.6" height="15" fill="url(#bS)"/></g>
<g transform="translate(791.3 1551.3) rotate(-1.04)"><rect x="0" y="-7.5" width="149.4" height="15" fill="url(#bBO)"/><rect x="0" y="-7.5" width="149.4" height="15" fill="url(#bS)"/></g>
<g transform="translate(940.7 1548.6) rotate(68.23)"><rect x="0" y="-7.5" width="155.1" height="15" fill="url(#bOO)"/><rect x="0" y="-7.5" width="155.1" height="15" fill="url(#bS)"/></g>
<g transform="translate(998.2 1692.6) rotate(-1.43)"><rect x="0" y="-7.5" width="124.5" height="15" fill="url(#bOO)"/><rect x="0" y="-7.5" width="124.5" height="15" fill="url(#bS)"/></g>
<circle cx="502.6" cy="1546.5" r="40.5" fill="url(#gB)"/>
<ellipse cx="516.6" cy="1532.5" rx="6" ry="5" fill="url(#gH)" opacity="0.8"/>
<text class="b" font-size="50.5" text-anchor="middle" transform="translate(502.4 1562.5) scale(0.9750 1.0400)" stroke="#000" stroke-width="1.6">Be</text>
<circle cx="647.7" cy="1549.2" r="38" fill="url(#gO)"/>
<ellipse cx="667.7" cy="1538.2" rx="7" ry="5" fill="url(#gH)" transform="rotate(35 667.7 1538.2)"/>
<ellipse cx="626.7" cy="1539.2" rx="4.5" ry="3.5" fill="url(#gH)" opacity="0.7"/>
<text font-size="52" text-anchor="middle" transform="translate(648.3 1568.1) scale(0.9750 1.0300)" stroke="#000" stroke-width="1.4">O</text>
<circle cx="791.3" cy="1551.3" r="40.2" fill="url(#gB)"/>
<ellipse cx="805.3" cy="1537.3" rx="6" ry="5" fill="url(#gH)" opacity="0.8"/>
<text class="b" font-size="50.5" text-anchor="middle" transform="translate(791.1 1567.3) scale(0.9750 1.0400)" stroke="#000" stroke-width="1.6">Be</text>
<circle cx="940.7" cy="1548.6" r="37.6" fill="url(#gO)"/>
<ellipse cx="960.7" cy="1537.6" rx="7" ry="5" fill="url(#gH)" transform="rotate(35 960.7 1537.6)"/>
<ellipse cx="919.7" cy="1538.6" rx="4.5" ry="3.5" fill="url(#gH)" opacity="0.7"/>
<text font-size="52" text-anchor="middle" transform="translate(941.3 1567.5) scale(0.9750 1.0300)" stroke="#000" stroke-width="1.4">O</text>
<circle cx="998.2" cy="1692.6" r="37.6" fill="url(#gO)"/>
<ellipse cx="1018.2" cy="1681.6" rx="7" ry="5" fill="url(#gH)" transform="rotate(35 1018.2 1681.6)"/>
<ellipse cx="977.2" cy="1682.6" rx="4.5" ry="3.5" fill="url(#gH)" opacity="0.7"/>
<text font-size="52" text-anchor="middle" transform="translate(998.8 1711.5) scale(0.9750 1.0300)" stroke="#000" stroke-width="1.4">O</text>
<circle cx="1122.7" cy="1689.5" r="37.6" fill="url(#gO)"/>
<ellipse cx="1142.7" cy="1678.5" rx="7" ry="5" fill="url(#gH)" transform="rotate(35 1142.7 1678.5)"/>
<ellipse cx="1101.7" cy="1679.5" rx="4.5" ry="3.5" fill="url(#gH)" opacity="0.7"/>
<text font-size="52" text-anchor="middle" transform="translate(1123.3 1708.4) scale(0.9750 1.0300)" stroke="#000" stroke-width="1.4">O</text>
<text class="b" font-size="81" text-anchor="start" transform="translate(748.2 1712) scale(1.0000 1.0400)">C</text>
</svg></body></html>
